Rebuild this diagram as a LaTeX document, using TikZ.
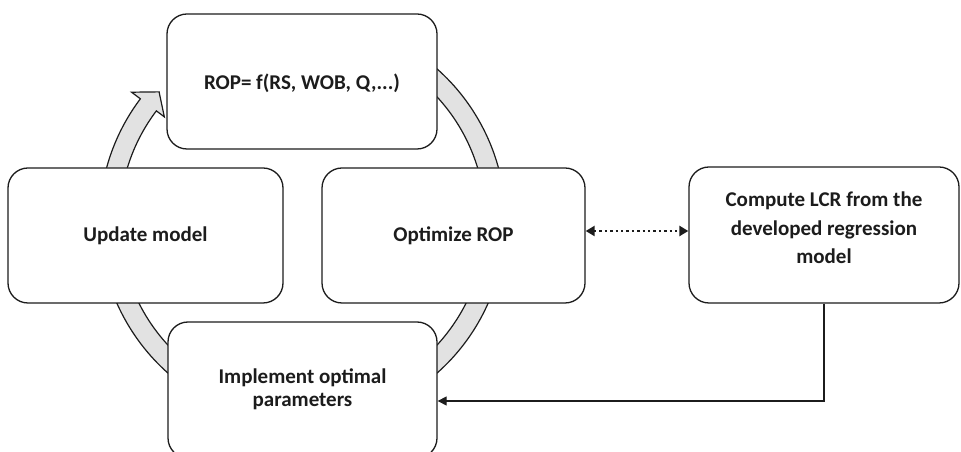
\documentclass[tikz,border=0pt]{standalone}
\usepackage{fontspec}
\setmainfont{Carlito}
\usetikzlibrary{arrows.meta}
\definecolor{ink}{HTML}{1C1C1C}
\definecolor{ringgray}{HTML}{E2E2E2}
\tikzset{
  stagebox/.style={draw=ink, fill=white, line width=1.3pt, rounded corners=20pt,
    inner sep=0pt, text=ink, font=\bfseries\fontsize{21}{23}\selectfont, align=center},
  ringstyle/.style={fill=ringgray, draw=ink, line width=1.2pt, line join=miter},
  linkarrow/.style={draw=ink, line width=1.2pt, -{Triangle[length=9pt,width=9pt]}},
  dotlink/.style={draw=ink, line width=2.4pt, dash pattern=on 2.4pt off 3pt,
    {Triangle[length=9pt,width=10pt]}-{Triangle[length=9pt,width=10pt]}}
}
\begin{document}
\begin{tikzpicture}[x=1pt,y=1pt]
\useasboundingbox (0,0) rectangle (961,452);
\clip (0,0) rectangle (961,452);
% circular arrow behind the boxes
\begin{scope}[shift={(302.5,231)}]
  \path[ringstyle] (480:203) arc[start angle=480, end angle=143, radius=203]
    -- (143:214) -- (138:193) -- (143:173) -- (143:183)
    arc[start angle=143, end angle=480, radius=183] -- cycle;
\end{scope}
% boxes
\node[stagebox, minimum width=270pt, minimum height=135pt] (top) at (302,370.5) {};
\node[text=ink, font=\bfseries\fontsize{21}{23}\selectfont] (toptext) at (302,369) {ROP= f(RS, WOB, Q,...)};
\node[stagebox, minimum width=275pt, minimum height=135pt] (upd) at (145.5,216.5) {Update model};
\node[stagebox, minimum width=263pt, minimum height=135pt] (opt) at (453.5,216.5) {Optimize ROP};
\node[stagebox, minimum width=269pt, minimum height=136pt] (impl) at (302.5,62) {};
\node[text=ink, align=center, font=\bfseries\fontsize{21}{23}\selectfont] (impltext) at (302.5,63) {Implement optimal\\parameters};
\node[stagebox, minimum width=270pt, minimum height=136pt] (lcr) at (824,217) {};
\node[text=ink, align=center, font=\bfseries\fontsize{21}{28.5}\selectfont] (lcrtext) at (824,224) {Compute LCR from the\\developed regression\\model};
% connectors
\draw[dotlink] ([yshift=4.5pt]opt.east) -- ([yshift=4pt]lcr.west);
\draw[linkarrow] (lcr.south) |- ([yshift=-11pt]impl.east);
\end{tikzpicture}
\end{document}
